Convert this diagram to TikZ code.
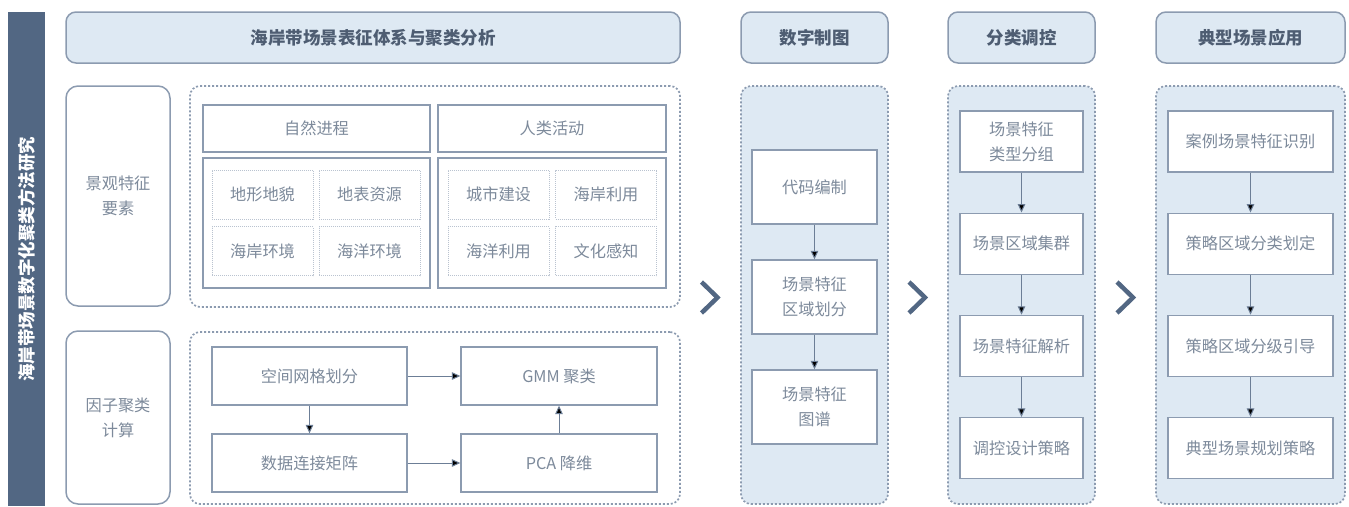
\documentclass[tikz,border=0pt]{standalone}
\usepackage{fontspec}
\setmainfont{Noto Sans CJK SC}
\usepackage{tikz}
\usetikzlibrary{positioning,arrows.meta}

\definecolor{frame}{HTML}{8C9BB0}
\definecolor{ink}{HTML}{7D8A9B}
\definecolor{head}{HTML}{4E5D72}
\definecolor{pale}{HTML}{DEE9F3}
\definecolor{slate}{HTML}{526783}

\begin{document}
\begin{tikzpicture}[x=1pt,y=-1pt,on grid,auto,
    every node/.style={font=\fontsize{16.2}{25}\selectfont,text=ink,align=center,inner sep=0pt},
    head/.style={draw=frame,line width=1.5pt,fill=pale,rounded corners=10pt,minimum height=51pt,
        font=\fontsize{17.5}{20}\selectfont\bfseries,text=head},
    side/.style={draw=frame,line width=1.5pt,fill=white,rounded corners=12pt,minimum width=104pt},
    group/.style={draw=frame,line width=1.7pt,dash pattern=on 2pt off 2pt,rounded corners=10pt},
    box/.style={draw=frame,line width=1.3pt,fill=white},
    cell/.style={draw=frame!60,line width=0.8pt,dash pattern=on 1pt off 1pt,minimum width=101pt,minimum height=49pt},
    link/.style={draw=slate!85,line width=1pt,-{Triangle[length=8.5pt,width=7.5pt]}}]
    \useasboundingbox (0,0) rectangle (1349,506);

    % title bar
    \node[fill=slate,rotate=90,minimum width=494pt,minimum height=37pt,text=white,
        font=\fontsize{17.5}{20}\selectfont\bfseries] (t_0) at (26.5,259) {海岸带场景数字化聚类方法研究};

    % headers
    \node[head,minimum width=614pt] (h_1) at (373,37.5) {海岸带场景表征体系与聚类分析};
    \node[head,minimum width=147pt] (h_2) at (814.5,37.5) {数字制图};
    \node[head,minimum width=147pt] (h_3) at (1021.5,37.5) {分类调控};
    \node[head,minimum width=189pt] (h_4) at (1250.5,37.5) {典型场景应用};

    % left part
    \node[side,minimum height=220pt] (l_1) at (118,196) {景观特征\\要素};
    \node[side,minimum height=173pt] (l_2) at (118,417.5) {因子聚类\\计算};
    \node[group,fill=white,minimum width=490pt,minimum height=221pt] (g_1) at (435,196.5) {};
    \node[group,fill=white,minimum width=490pt,minimum height=172pt] (g_2) at (435,418) {};

    \node[box,minimum width=227pt,minimum height=47pt] (n_1) at (316.5,128.5) {自然进程};
    \node[box,minimum width=228pt,minimum height=47pt] (n_2) at (552,128.5) {人类活动};
    \node[box,minimum width=227pt,minimum height=130pt] (b_1) at (316.5,223) {};
    \node[box,minimum width=228pt,minimum height=130pt] (b_2) at (552,223) {};

    \node[cell] (e_1) at (262.5,194.5) {地形地貌};
    \node[cell] (e_2) at (369.5,194.5) {地表资源};
    \node[cell] (e_3) at (262.5,251) {海岸环境};
    \node[cell] (e_4) at (369.5,251) {海洋环境};
    \node[cell] (e_5) at (498.5,194.5) {城市建设};
    \node[cell] (e_6) at (606,194.5) {海岸利用};
    \node[cell] (e_7) at (498.5,251) {海洋利用};
    \node[cell] (e_8) at (606,251) {文化感知};

    \node[box,minimum width=195pt,minimum height=58pt] (s_1) at (309.5,376) {空间网格划分};
    \node[box,minimum width=195pt,minimum height=58pt] [below=87pt of s_1] (s_2) {数据连接矩阵};
    \node[box,minimum width=196pt,minimum height=58pt] [right=249.5pt of s_1] (s_3) {GMM 聚类};
    \node[box,minimum width=196pt,minimum height=58pt] [right=249.5pt of s_2] (s_4) {PCA 降维};

    % columns
    \node[group,fill=pale,minimum width=147pt,minimum height=418pt] (g_3) at (814.5,295) {};
    \node[group,fill=pale,minimum width=147pt,minimum height=418pt] (g_4) at (1021.5,295) {};
    \node[group,fill=pale,minimum width=189pt,minimum height=418pt] (g_5) at (1250.5,295) {};

    \begin{scope}[node distance=110pt]
    \node[box,minimum width=125pt,minimum height=74pt] (p_1) at (814.5,187) {代码编制};
    \node[box,minimum width=125pt,minimum height=74pt] [below=of p_1] (p_2) {场景特征\\区域划分};
    \node[box,minimum width=125pt,minimum height=74pt] [below=of p_2] (p_3) {场景特征\\图谱};
    \end{scope}

    \begin{scope}[node distance=102.2pt]
    \node[box,minimum width=123pt,minimum height=61pt] (q_1) at (1021.5,141.5) {场景特征\\类型分组};
    \node[box,minimum width=123pt,minimum height=61pt] [below=of q_1] (q_2) {场景区域集群};
    \node[box,minimum width=123pt,minimum height=61pt] [below=of q_2] (q_3) {场景特征解析};
    \node[box,minimum width=123pt,minimum height=61pt] [below=of q_3] (q_4) {调控设计策略};

    \node[box,minimum width=165pt,minimum height=61pt] (r_1) at (1250.5,141.5) {案例场景特征识别};
    \node[box,minimum width=165pt,minimum height=61pt] [below=of r_1] (r_2) {策略区域分类划定};
    \node[box,minimum width=165pt,minimum height=61pt] [below=of r_2] (r_3) {策略区域分级引导};
    \node[box,minimum width=165pt,minimum height=61pt] [below=of r_3] (r_4) {典型场景规划策略};
    \end{scope}

    \path[link]
    (s_1) edge (s_2)
    (s_1) edge (s_3)
    (s_2) edge (s_4)
    (s_4) edge (s_3)
    (p_1) edge (p_2)
    (p_2) edge (p_3)
    (q_1) edge (q_2)
    (q_2) edge (q_3)
    (q_3) edge (q_4)
    (r_1) edge (r_2)
    (r_2) edge (r_3)
    (r_3) edge (r_4)
    ;

    % chevrons
    \foreach \x in {709.5,917,1125}
        \draw[slate,line width=4.5pt,miter limit=10] (\x-8,282) -- (\x+8,297.5) -- (\x-8,313);
\end{tikzpicture}
\end{document}
